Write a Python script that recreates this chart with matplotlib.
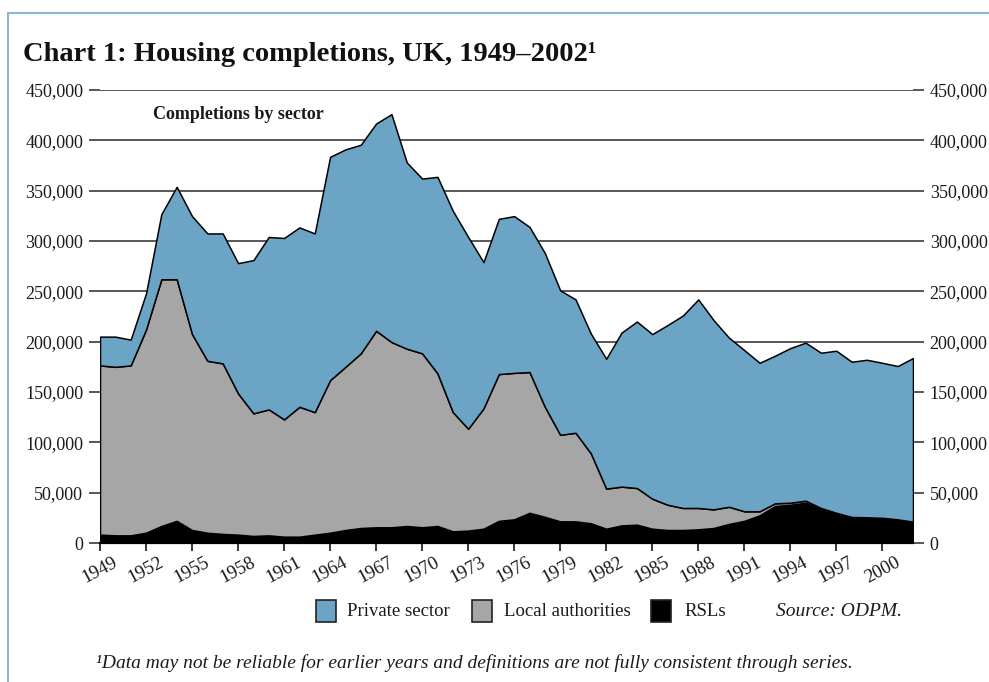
import numpy as np
import matplotlib.pyplot as plt
from matplotlib.patches import Rectangle
from matplotlib.ticker import FuncFormatter

plt.rcParams['font.family'] = ['Liberation Serif', 'DejaVu Serif']

years = np.arange(1949, 2003)

rsl = [8300, 7600, 7600, 10200, 16900, 22000, 12900, 10200, 9000, 8300,
       7000, 7600, 6300, 6300, 8300, 10200, 12900, 14900, 15600, 15600,
       16900, 15600, 16900, 11600, 12300, 14200, 22000, 23500, 30000, 26000,
       21500, 21500, 19600, 14200, 17500, 18200, 14200, 12900, 12900, 13600,
       14900, 18900, 22000, 27500, 36700, 38000, 40000, 33400, 28800, 25500,
       25000, 24000, 22800, 20900]

local_auth = [168100, 167400, 168800, 201800, 245100, 240000, 194600, 170800, 169400, 140300,
              121800, 125100, 116500, 129000, 121700, 151600, 162100, 173500, 195200, 184000,
              176100, 172800, 151600, 118400, 101200, 119500, 145800, 145500, 139800, 109300,
              86000, 88000, 69400, 39800, 38500, 36400, 29800, 25100, 21900, 21200,
              18500, 17100, 9500, 4000, 2700, 2000, 2000, 1400, 1200, 400,
              500, 1000, 700, 300]

private = [28600, 30000, 25600, 36000, 64700, 91800, 117200, 126500, 129100, 129400,
           152200, 171300, 180200, 178200, 177500, 221800, 216000, 207200, 205900, 226400,
           185000, 173600, 195200, 200000, 190500, 145300, 154200, 155700, 144200, 152700,
           143500, 132500, 119000, 129000, 153000, 165400, 163500, 178500, 191200, 207200,
           188000, 168000, 160100, 147500, 146600, 153600, 157000, 154200, 161000, 154200,
           156500, 154000, 152300, 162500]

labels = ['Private sector', 'Local authorities', 'RSLs']
colors = ['#6ba4c5', '#a6a6a6', '#000000']
xtick_years = np.arange(1949, 2001, 3)
yticks = np.arange(0, 450001, 50000)

fig = plt.figure(figsize=(9.89, 6.82), dpi=100)
ax = fig.add_axes([100 / 989, 1 - 543 / 682, 813 / 989, 453 / 682])

# stacked from the bottom: RSLs, local authorities, private sector
ax.stackplot(years, rsl, local_auth, private,
             colors=[colors[2], colors[1], colors[0]],
             edgecolor='black', linewidth=1.1)

ax.set_xlim(1949, 2002)
ax.set_ylim(0, 450000)
ax.set_yticks(yticks)
ax.set_xticks(xtick_years)
ax.set_xticklabels([str(y) for y in xtick_years], rotation=28, ha='center')
ax.yaxis.set_major_formatter(FuncFormatter(lambda v, p: f'{int(v):,}'))

ax.set_axisbelow(True)
ax.grid(axis='y', color='#2a2a2a', linewidth=1.1)
for s in ['left', 'right', 'top']:
    ax.spines[s].set_visible(False)
ax.spines['bottom'].set_linewidth(1.6)
ax.spines['bottom'].set_zorder(5)

ax.tick_params(axis='y', which='both', left=True, right=True, labelleft=True,
               labelright=True, length=8, width=1.1, color='#2a2a2a',
               labelsize=13, pad=4, labelcolor='#1a1a1a')
ax.tick_params(axis='x', length=6, width=1.1, labelsize=13.5, pad=2,
               labelcolor='#1a1a1a')

ax.text(0.065, 0.945, 'Completions by sector', transform=ax.transAxes,
        fontsize=13, fontweight='bold', va='center', ha='left', color='#1a1a1a')

# title
fig.text(23 / 989, 1 - 61 / 682, 'Chart 1: Housing completions, UK, 1949\u20132002\u00b9',
         fontsize=20.5, fontweight='bold', ha='left', va='baseline', color='#111111')

# legend drawn manually in figure pixels
items = [(316, 'Private sector', colors[0], 347),
         (472, 'Local authorities', colors[1], 504),
         (651, 'RSLs', colors[2], 684)]
for x0, lab, col, tx in items:
    fig.patches.append(Rectangle((x0 / 989, 1 - 622 / 682), 20 / 989, 22 / 682,
                                 transform=fig.transFigure, facecolor=col,
                                 edgecolor='#222222', linewidth=1.2))
    fig.text(tx / 989, 1 - 611 / 682, lab, fontsize=13.5, va='center', ha='left',
             color='#1a1a1a')
fig.text(776 / 989, 1 - 611 / 682, 'Source: ODPM.', fontsize=14, style='italic',
         va='center', ha='left', color='#1a1a1a')

fig.text(96 / 989, 1 - 663 / 682,
         '\u00b9Data may not be reliable for earlier years and definitions are not fully consistent through series.',
         fontsize=14, style='italic', va='center', ha='left', color='#1a1a1a')

# light blue frame
frame_col = '#8db6d3'
fig.add_artist(plt.Line2D([8 / 989, 1.0], [1 - 13 / 682, 1 - 13 / 682],
                          transform=fig.transFigure, color=frame_col, linewidth=1.5))
fig.add_artist(plt.Line2D([8 / 989, 8 / 989], [0.0, 1 - 13 / 682],
                          transform=fig.transFigure, color=frame_col, linewidth=1.5))

fig.savefig('out.png', dpi=100)
